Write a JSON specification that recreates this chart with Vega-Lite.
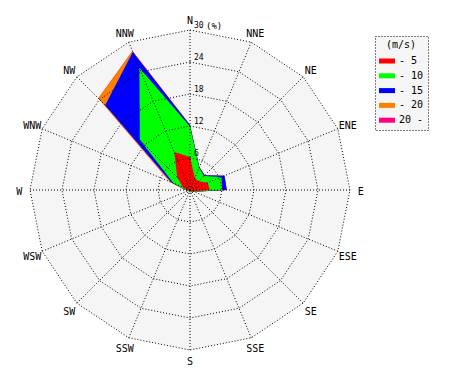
{
  "$schema": "https://vega.github.io/schema/vega-lite/v6.json",
  "width": 470,
  "height": 380,
  "autosize": {"type": "none"},
  "padding": 0,
  "background": "white",
  "config": {"view": {"stroke": null}, "font": "DejaVu Sans Mono", "legend": {"strokeDash": [1, 2]}},
  "datasets": {
    "rose": [
      {"i": 0, "dir": "N", "s5": 6.2, "s10": 11.9, "s15": 12.2, "s20": 12.2, "s99": 12.2},
      {"i": 1, "dir": "NNE", "s5": 2.4, "s10": 4.5, "s15": 4.6, "s20": 4.6, "s99": 4.6},
      {"i": 2, "dir": "NE", "s5": 2.3, "s10": 3.7, "s15": 3.9, "s20": 3.9, "s99": 3.9},
      {"i": 3, "dir": "ENE", "s5": 3.6, "s10": 6.4, "s15": 7.0, "s20": 7.0, "s99": 7.0},
      {"i": 4, "dir": "E", "s5": 3.7, "s10": 6.0, "s15": 6.9, "s20": 6.9, "s99": 6.9},
      {"i": 5, "dir": "ESE", "s5": 0.6, "s10": 0.8, "s15": 0.9, "s20": 0.9, "s99": 0.9},
      {"i": 6, "dir": "SE", "s5": 0.4, "s10": 0.5, "s15": 0.5, "s20": 0.5, "s99": 0.5},
      {"i": 7, "dir": "SSE", "s5": 0.3, "s10": 0.4, "s15": 0.4, "s20": 0.4, "s99": 0.4},
      {"i": 8, "dir": "S", "s5": 0.3, "s10": 0.4, "s15": 0.4, "s20": 0.4, "s99": 0.4},
      {"i": 9, "dir": "SSW", "s5": 0.3, "s10": 0.3, "s15": 0.3, "s20": 0.3, "s99": 0.3},
      {"i": 10, "dir": "SW", "s5": 0.3, "s10": 0.3, "s15": 0.3, "s20": 0.3, "s99": 0.3},
      {"i": 11, "dir": "WSW", "s5": 0.3, "s10": 0.4, "s15": 0.4, "s20": 0.4, "s99": 0.4},
      {"i": 12, "dir": "W", "s5": 0.5, "s10": 0.8, "s15": 0.9, "s20": 0.9, "s99": 0.9},
      {"i": 13, "dir": "WNW", "s5": 1.5, "s10": 3.4, "s15": 3.8, "s20": 4.1, "s99": 4.1},
      {"i": 14, "dir": "NW", "s5": 3.4, "s10": 13.3, "s15": 22.5, "s20": 24.3, "s99": 24.3},
      {"i": 15, "dir": "NNW", "s5": 7.7, "s10": 24.8, "s15": 28.0, "s20": 28.2, "s99": 28.2}
    ],
    "rings": [
      {"r": 6, "i": [0, 1, 2, 3, 4, 5, 6, 7, 8, 9, 10, 11, 12, 13, 14, 15]},
      {"r": 12, "i": [0, 1, 2, 3, 4, 5, 6, 7, 8, 9, 10, 11, 12, 13, 14, 15]},
      {"r": 18, "i": [0, 1, 2, 3, 4, 5, 6, 7, 8, 9, 10, 11, 12, 13, 14, 15]},
      {"r": 24, "i": [0, 1, 2, 3, 4, 5, 6, 7, 8, 9, 10, 11, 12, 13, 14, 15]},
      {"r": 30, "i": [0, 1, 2, 3, 4, 5, 6, 7, 8, 9, 10, 11, 12, 13, 14, 15]}
    ]
  },
  "encoding": {
    "x": {"field": "px", "type": "quantitative", "scale": {"domain": [-35.625, 52.5], "nice": false, "zero": false}, "axis": null},
    "y": {"field": "py", "type": "quantitative", "scale": {"domain": [-35.625, 35.625], "nice": false, "zero": false}, "axis": null}
  },
  "layer": [
    {
      "data": {"name": "rose"},
      "transform": [
        {"calculate": "30 * sin(datum.i * PI / 8)", "as": "px"},
        {"calculate": "30 * cos(datum.i * PI / 8)", "as": "py"}
      ],
      "mark": {"type": "line", "filled": true, "interpolate": "linear-closed", "color": "#f5f5f5", "strokeWidth": 0},
      "encoding": {"order": {"field": "i", "type": "quantitative"}}
    },
    {
      "data": {"name": "rose"},
      "transform": [
        {"fold": ["s99", "s20", "s15", "s10", "s5"], "as": ["cls", "v"]},
        {"calculate": "datum.v * sin(datum.i * PI / 8)", "as": "px"},
        {"calculate": "datum.v * cos(datum.i * PI / 8)", "as": "py"}
      ],
      "mark": {"type": "line", "filled": true, "interpolate": "linear-closed", "strokeWidth": 0},
      "encoding": {
        "order": {"field": "i", "type": "quantitative"},
        "color": {
          "field": "cls",
          "type": "nominal",
          "scale": {"domain": ["s5", "s10", "s15", "s20", "s99"], "range": ["#ff0000", "#00ff00", "#0000ff", "#ff8000", "#ff0080"]},
          "legend": {
            "title": "\u00a0\u00a0\u00a0\u00a0(m/s)\u00a0\u00a0\u00a0",
            "orient": "none",
            "legendX": 375,
            "legendY": 36,
            "padding": 4,
            "titleFont": "DejaVu Sans Mono",
            "titleFontSize": 10,
            "titleFontWeight": "normal",
            "titleColor": "black",
            "titleAnchor": "middle",
            "titleAlign": "center",
            "titlePadding": 3,
            "labelFont": "DejaVu Sans Mono",
            "labelFontSize": 10,
            "labelColor": "black",
            "labelOffset": 4,
            "labelExpr": "datum.label == 's5' ? '- 5' : datum.label == 's10' ? '- 10' : datum.label == 's15' ? '- 15' : datum.label == 's20' ? '- 20' : '20 -'",
            "symbolType": "M-1,-0.3125H1V0.3125H-1Z",
            "symbolSize": 256,
            "symbolStrokeWidth": 0,
            "symbolOpacity": 1,
            "rowPadding": 1.8,
            "strokeColor": "black",
            "fillColor": "#f5f5f5"
          }
        }
      }
    },
    {
      "data": {"name": "rings"},
      "transform": [
        {"flatten": ["i"]},
        {"calculate": "datum.r * sin(datum.i * PI / 8)", "as": "px"},
        {"calculate": "datum.r * cos(datum.i * PI / 8)", "as": "py"}
      ],
      "mark": {"type": "line", "interpolate": "linear-closed", "color": "black", "strokeWidth": 1, "strokeDash": [1, 2]},
      "encoding": {
        "order": {"field": "i", "type": "quantitative"},
        "detail": {"field": "r", "type": "nominal"}
      }
    },
    {
      "data": {"name": "rose"},
      "transform": [
        {"calculate": "30 * sin(datum.i * PI / 8)", "as": "px"},
        {"calculate": "30 * cos(datum.i * PI / 8)", "as": "py"}
      ],
      "mark": {"type": "rule", "color": "black", "strokeWidth": 1, "strokeDash": [1, 2]},
      "encoding": {
        "x2": {"datum": 0},
        "y2": {"datum": 0}
      }
    },
    {
      "data": {"name": "rose"},
      "transform": [
        {"calculate": "32 * sin(datum.i * PI / 8)", "as": "px"},
        {"calculate": "32 * cos(datum.i * PI / 8) - 0.3", "as": "py"}
      ],
      "mark": {"type": "text", "font": "DejaVu Sans Mono", "fontSize": 10, "align": "center", "baseline": "middle", "color": "black"},
      "encoding": {"text": {"field": "dir"}}
    },
    {
      "data": {"name": "rings"},
      "transform": [
        {"calculate": "0", "as": "px"},
        {"calculate": "datum.r", "as": "py"}
      ],
      "mark": {"type": "text", "font": "DejaVu Sans Mono", "fontSize": 8, "align": "left", "baseline": "alphabetic", "dx": 4, "dy": -2, "color": "black"},
      "encoding": {"text": {"field": "r", "type": "quantitative"}}
    },
    {
      "data": {"name": "rings"},
      "transform": [
        {"filter": "datum.r == 30"},
        {"calculate": "0", "as": "px"},
        {"calculate": "datum.r", "as": "py"}
      ],
      "mark": {"type": "text", "text": "(%)", "font": "DejaVu Sans Mono", "fontSize": 9, "align": "left", "baseline": "alphabetic", "dx": 16, "dy": -1, "color": "black"}
    }
  ]
}
